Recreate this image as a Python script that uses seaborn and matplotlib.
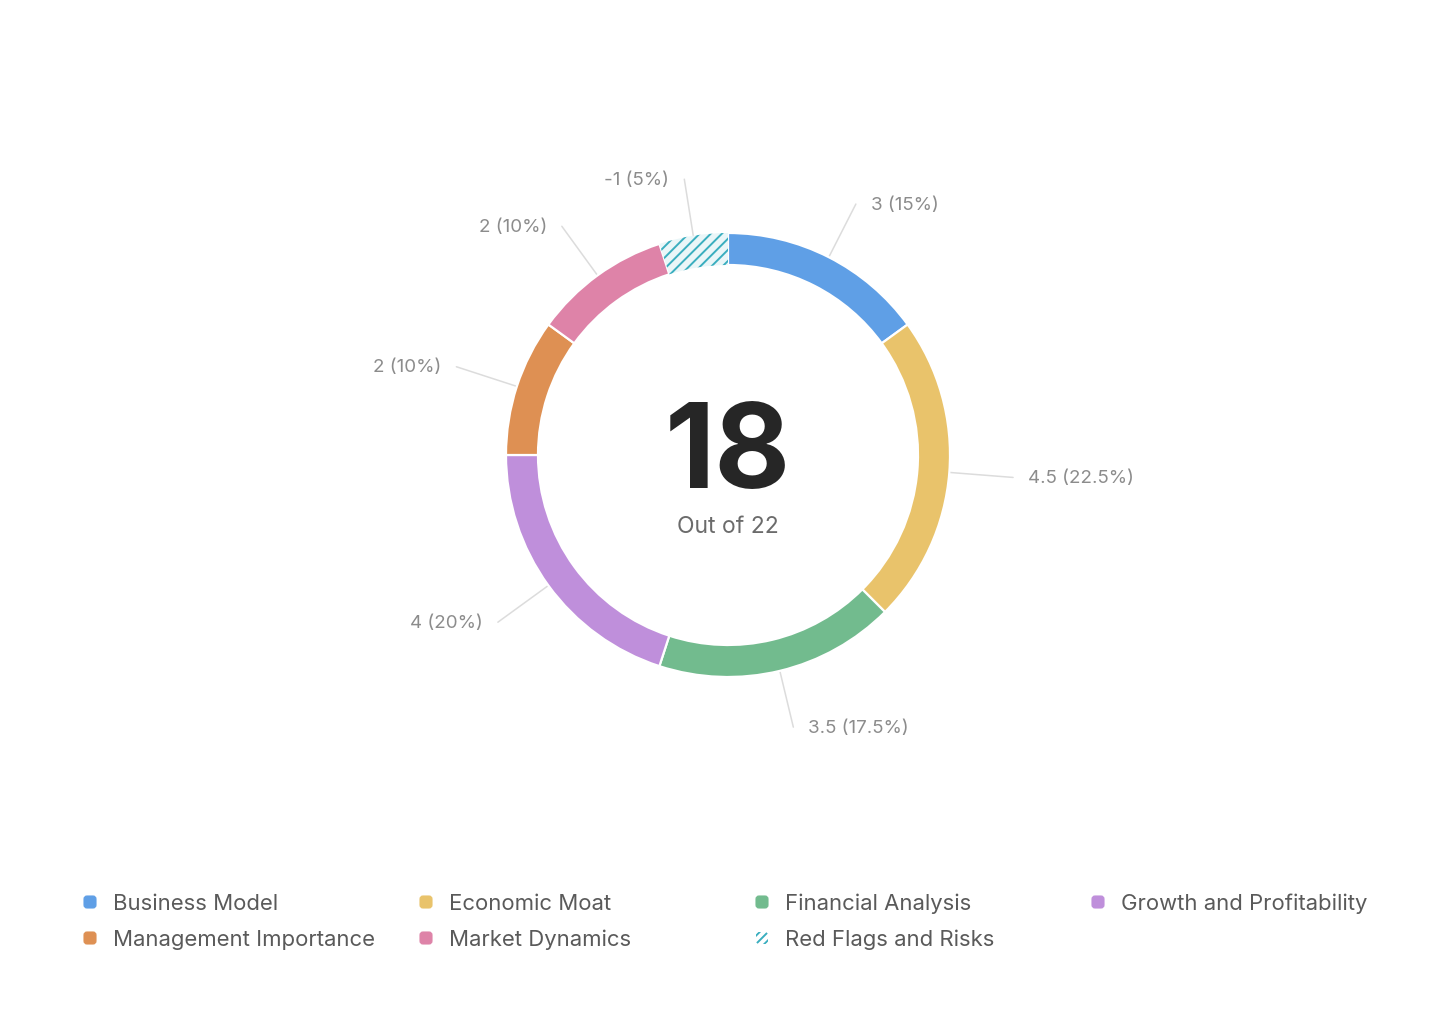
import numpy as np
import matplotlib
matplotlib.use("Agg")
import matplotlib.pyplot as plt
import seaborn as sns
from matplotlib.patches import FancyBboxPatch

sns.set_theme(style="white")
plt.rcParams['font.family'] = ['Inter', 'DejaVu Sans']
plt.rcParams['hatch.linewidth'] = 1.4

# data (clockwise from 12 o'clock)
categories = ["Business Model", "Economic Moat", "Financial Analysis",
              "Growth and Profitability", "Management Importance",
              "Market Dynamics", "Red Flags and Risks"]
scores = [3, 4.5, 3.5, 4, 2, 2, -1]
colors = ["#5f9fe6", "#e9c36b", "#72bb8e", "#bf8fdb", "#de9053", "#de83a8", "#3aaebf"]
score_total = 18
score_max = 22

# legend layout (row-major, as in the reference)
legend_order = ["Business Model", "Economic Moat", "Financial Analysis",
                "Growth and Profitability", "Management Importance",
                "Market Dynamics", "Red Flags and Risks"]

W, H = 1456, 1023
fig = plt.figure(figsize=(W / 100, H / 100), dpi=100)
ax = fig.add_axes([0, 0, 1, 1])

cx, cy = 728, H - 455
r_out, ring = 222, 32

sizes = np.abs(scores)
pct = sizes / sizes.sum() * 100
wedges, _ = ax.pie(sizes, colors=colors, startangle=90, counterclock=False,
                   center=(cx, cy), radius=r_out,
                   wedgeprops=dict(width=ring, edgecolor="white", linewidth=1.6))

# red flags: hatched
rf = wedges[-1]
rf.set_facecolor("#eaf6f8")
rf.set_edgecolor(colors[-1])
rf.set_hatch("///")
rf.set_linewidth(0)

# leader lines and labels
for w, v, p in zip(wedges, scores, pct):
    ang = np.deg2rad((w.theta1 + w.theta2) / 2)
    x0, y0 = cx + r_out * np.cos(ang), cy + r_out * np.sin(ang)
    # a bit longer to the sides, a bit shorter up/down
    r_end = 278 + 8 * abs(np.cos(ang))
    x1, y1 = cx + r_end * np.cos(ang), cy + r_end * np.sin(ang)
    ax.plot([x0, x1], [y0, y1], color="#dcdcdc", lw=1.1, zorder=0)
    right = np.cos(ang) >= 0
    vtxt = f"{v:g}"
    ptxt = f"{p:g}%"
    ax.text(x1 + (15 if right else -15), y1 - 1, f"{vtxt} ({ptxt})",
            ha="left" if right else "right", va="center",
            fontsize=13.5, color="#8c8c8c")

ax.text(cx, H - 445, str(score_total), ha="center", va="center_baseline",
        fontsize=84, fontweight="bold", color="#262626")
ax.text(cx, H - 527, f"Out of {score_max}", ha="center", va="center",
        fontsize=16.5, color="#6b6b6b")

# legend grid
col_x = [90, 426, 762, 1098]
row_y = [H - 902, H - 938]
for i, name in enumerate(legend_order):
    r, c = divmod(i, 4)
    k = categories.index(name)
    mx, my = col_x[c], row_y[r]
    if name == "Red Flags and Risks":
        patch = FancyBboxPatch((mx - 6, my - 6), 12, 12,
                               boxstyle="round,pad=0,rounding_size=3",
                               facecolor="none", edgecolor=colors[k],
                               hatch="////", linewidth=0)
    else:
        patch = FancyBboxPatch((mx - 6, my - 6), 12, 12,
                               boxstyle="round,pad=0,rounding_size=3",
                               facecolor=colors[k], edgecolor=colors[k],
                               linewidth=0.8)
    ax.add_patch(patch)
    ax.text(mx + 23, my - 2, name, ha="left", va="center",
            fontsize=15.9, color="#5a5a5a")

ax.set_xlim(0, W)
ax.set_ylim(0, H)
ax.set_aspect("equal")
ax.axis("off")

fig.savefig("out.png", dpi=100, facecolor="white")
